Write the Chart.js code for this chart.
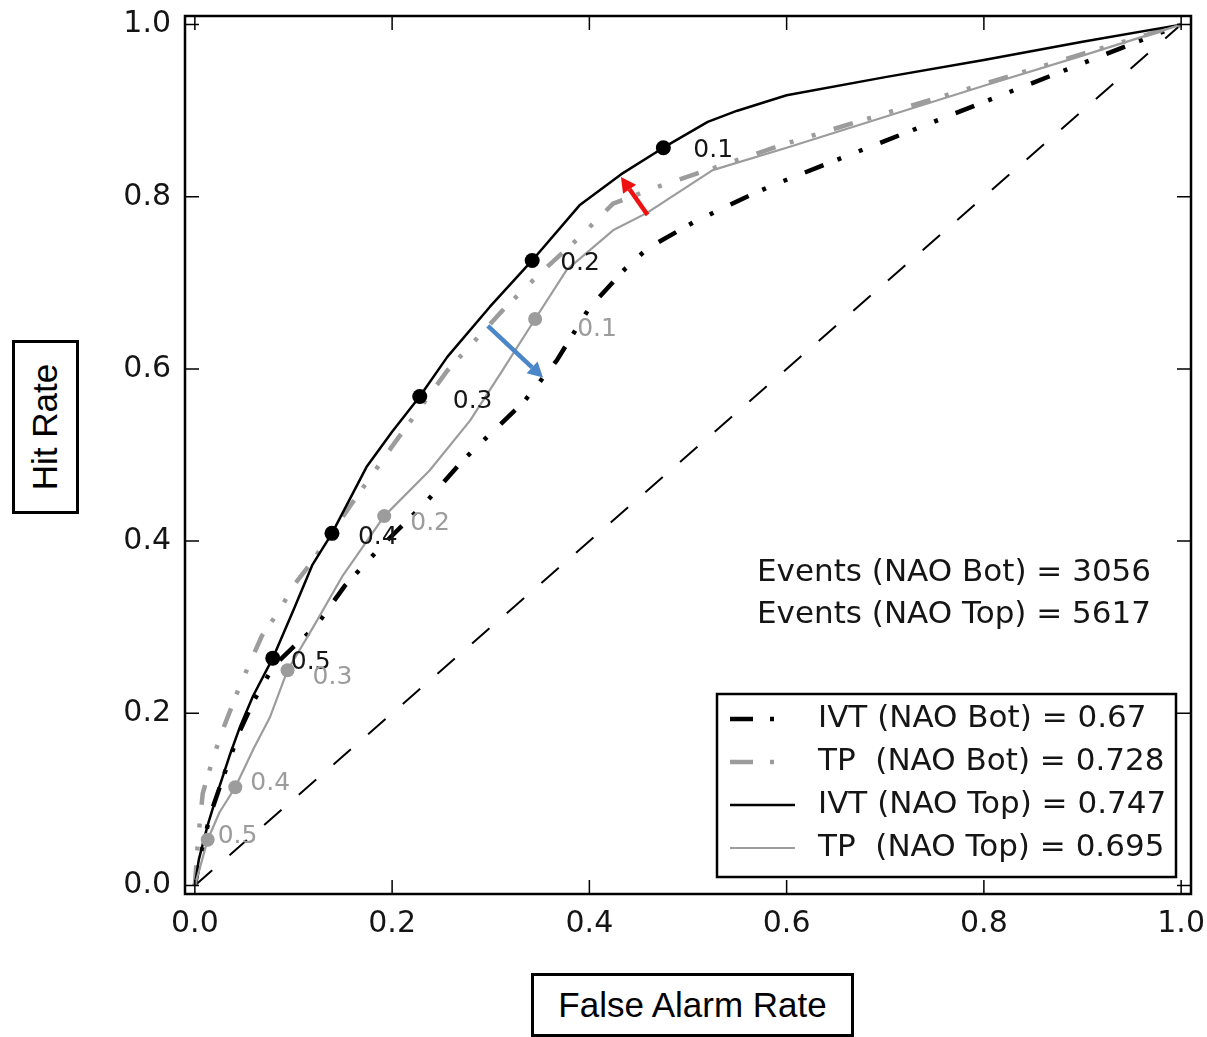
<!DOCTYPE html>
<html>
<head>
<meta charset="utf-8">
<title>ROC curves – IVT and TP by NAO phase</title>
<script src="https://cdn.jsdelivr.net/npm/chart.js@4/dist/chart.umd.min.js"></script>
<style>
  html, body { margin: 0; padding: 0; background: #fff; }
  #wrap { position: relative; width: 1207px; height: 1037px; overflow: hidden; }
  #roc { position: absolute; left: 0; top: 0; }
  .axbox {
    position: absolute; box-sizing: border-box; border: 3px solid #000; background: #fff;
    font-family: "Liberation Sans", Arial, sans-serif; font-size: 35px; color: #000;
    display: flex; align-items: center; justify-content: center;
  }
  #xtitle { left: 531px; top: 973px; width: 323px; height: 64px; }
  #ytitle { left: 12px; top: 340px; width: 67px; height: 174px; }
  #ytitle span { display: inline-block; white-space: nowrap; transform: rotate(-90deg); }
</style>
</head>
<body>
<div id="wrap">
  <canvas id="roc" width="1207" height="1037"></canvas>
  <div class="axbox" id="ytitle"><span>Hit Rate</span></div>
  <div class="axbox" id="xtitle"><span>False Alarm Rate</span></div>
</div>
<script>
// ---- data -------------------------------------------------------------
const tickValues = [0, 0.2, 0.4, 0.6, 0.8, 1.0];
const thresholds = ['0.1', '0.2', '0.3', '0.4', '0.5'];

// no-skill reference
const diagFar = [0, 1];
const diagHit = [0, 1];

// IVT, NAO bottom
const ivtBotFar = [0, 0.005, 0.015, 0.03, 0.045, 0.06, 0.08, 0.1, 0.122, 0.152, 0.19, 0.235, 0.272, 0.3, 0.333, 0.367, 0.4, 0.436, 0.459, 0.505, 0.556, 0.585, 0.7, 0.8, 0.9, 1];
const ivtBotHit = [0, 0.03, 0.08, 0.13, 0.178, 0.215, 0.255, 0.277, 0.3, 0.348, 0.395, 0.446, 0.494, 0.525, 0.561, 0.61, 0.671, 0.716, 0.74, 0.77, 0.798, 0.813, 0.865, 0.91, 0.955, 1];

// TP, NAO bottom
const tpBotFar = [0, 0.003, 0.008, 0.018, 0.027, 0.046, 0.068, 0.086, 0.1, 0.12, 0.16, 0.2, 0.256, 0.312, 0.35, 0.39, 0.424, 0.475, 0.525, 0.6, 0.7, 0.8, 0.9, 1];
const tpBotHit = [0, 0.05, 0.107, 0.146, 0.177, 0.233, 0.29, 0.32, 0.348, 0.378, 0.445, 0.51, 0.598, 0.668, 0.711, 0.753, 0.792, 0.814, 0.833, 0.862, 0.897, 0.931, 0.966, 1];

// IVT, NAO top
const ivtTopFar = [0, 0.004, 0.013, 0.025, 0.035, 0.046, 0.059, 0.079, 0.1, 0.119, 0.139, 0.174, 0.2, 0.228, 0.256, 0.299, 0.342, 0.39, 0.432, 0.475, 0.52, 0.55, 0.6, 0.7, 0.8, 0.9, 1];
const ivtTopHit = [0, 0.03, 0.07, 0.115, 0.15, 0.185, 0.22, 0.264, 0.32, 0.372, 0.409, 0.486, 0.527, 0.568, 0.614, 0.672, 0.726, 0.79, 0.826, 0.857, 0.887, 0.9, 0.918, 0.939, 0.959, 0.98, 1];

// TP, NAO top
const tpTopFar = [0, 0.005, 0.013, 0.025, 0.041, 0.06, 0.076, 0.094, 0.12, 0.15, 0.192, 0.238, 0.279, 0.309, 0.345, 0.377, 0.424, 0.458, 0.525, 0.6, 0.7, 0.8, 0.9, 1];
const tpTopHit = [0, 0.02, 0.053, 0.085, 0.114, 0.16, 0.195, 0.25, 0.3, 0.36, 0.429, 0.482, 0.54, 0.593, 0.658, 0.715, 0.761, 0.781, 0.831, 0.857, 0.893, 0.929, 0.964, 1];

// probability thresholds marked on the NAO-top curves (0.1 ... 0.5)
const ivtTopMarkFar = [0.475, 0.342, 0.228, 0.139, 0.079];
const ivtTopMarkHit = [0.857, 0.726, 0.568, 0.409, 0.264];
const tpTopMarkFar = [0.345, 0.192, 0.094, 0.041, 0.013];
const tpTopMarkHit = [0.658, 0.429, 0.25, 0.114, 0.053];

const legendLabels = [
  'IVT (NAO Bot) = 0.67',
  'TP  (NAO Bot) = 0.728',
  'IVT (NAO Top) = 0.747',
  'TP  (NAO Top) = 0.695'
];
const eventLines = ['Events (NAO Bot) = 3056', 'Events (NAO Top) = 5617'];

// arrows: [tailFar, tailHit, headFar, headHit]
const redArrow = [0.459, 0.779, 0.432, 0.823];
const blueArrow = [0.297, 0.650, 0.353, 0.590];

// ---- helpers ----------------------------------------------------------
const pts = (xs, ys) => xs.map((x, i) => ({ x: x, y: ys[i] }));
const GRAY = '#9c9c9c';
const INK = '#151515';
const MPL_FONT = '"DejaVu Sans", "Liberation Sans", sans-serif';
const dashDotDot = [20, 15, 4, 19, 4, 19];
const legendDashDot = [23, 17, 4, 60];

// ---- annotation / frame plugin ---------------------------------------
const rocDecor = {
  id: 'rocDecor',
  afterDatasetsDraw(chart, args, opts) {
    const ctx = chart.ctx;
    const xs = chart.scales.x, ys = chart.scales.y;
    const a = chart.chartArea;
    ctx.save();

    // frame
    ctx.strokeStyle = '#000';
    ctx.lineWidth = 2.5;
    ctx.strokeRect(a.left, a.top, a.right - a.left, a.bottom - a.top);

    // inward ticks on all four sides
    ctx.lineWidth = 1.5;
    const tl = 14;
    tickValues.forEach(v => {
      const px = xs.getPixelForValue(v);
      const py = ys.getPixelForValue(v);
      ctx.beginPath();
      ctx.moveTo(px, a.bottom); ctx.lineTo(px, a.bottom - tl);
      ctx.moveTo(px, a.top); ctx.lineTo(px, a.top + tl);
      ctx.moveTo(a.left, py); ctx.lineTo(a.left + tl, py);
      ctx.moveTo(a.right, py); ctx.lineTo(a.right - tl, py);
      ctx.stroke();
    });

    // threshold labels next to markers
    ctx.font = '25px ' + MPL_FONT;
    ctx.textAlign = 'left';
    ctx.textBaseline = 'middle';
    opts.markerSets.forEach(set => {
      const ds = chart.data.datasets[set.index];
      ctx.fillStyle = set.color;
      ds.data.forEach((p, i) => {
        const px = xs.getPixelForValue(p.x) + set.dx[i];
        const py = ys.getPixelForValue(p.y) + set.dy[i];
        ctx.fillText(thresholds[i], px, py);
      });
    });

    // event counts
    ctx.font = '31px ' + MPL_FONT;
    ctx.fillStyle = INK;
    ctx.fillText(eventLines[0], 757, 573);
    ctx.fillText(eventLines[1], 757, 615);

    // arrows
    const drawArrow = (arr, color) => {
      const x0 = xs.getPixelForValue(arr[0]), y0 = ys.getPixelForValue(arr[1]);
      const x1 = xs.getPixelForValue(arr[2]), y1 = ys.getPixelForValue(arr[3]);
      const ang = Math.atan2(y1 - y0, x1 - x0);
      const head = 15, half = 8;
      const bx = x1 - head * Math.cos(ang), by = y1 - head * Math.sin(ang);
      ctx.strokeStyle = color; ctx.fillStyle = color;
      ctx.lineWidth = 4.5; ctx.lineCap = 'butt';
      ctx.beginPath(); ctx.moveTo(x0, y0); ctx.lineTo(bx, by); ctx.stroke();
      ctx.beginPath();
      ctx.moveTo(x1, y1);
      ctx.lineTo(bx + half * Math.sin(ang), by - half * Math.cos(ang));
      ctx.lineTo(bx - half * Math.sin(ang), by + half * Math.cos(ang));
      ctx.closePath(); ctx.fill();
    };
    drawArrow(redArrow, '#ee1111');
    drawArrow(blueArrow, '#4a86c8');

    // legend box
    const L = { left: 717, top: 694, right: 1176, bottom: 877 };
    ctx.fillStyle = '#fff';
    ctx.fillRect(L.left, L.top, L.right - L.left, L.bottom - L.top);
    ctx.strokeStyle = '#000'; ctx.lineWidth = 2.5;
    ctx.strokeRect(L.left, L.top, L.right - L.left, L.bottom - L.top);
    const rowY = [719, 762, 805, 848];
    ctx.font = '31px ' + MPL_FONT;
    ctx.textBaseline = 'middle';
    opts.legendOrder.forEach((dsIndex, r) => {
      const ds = chart.data.datasets[dsIndex];
      const dashed = ds.borderDash && ds.borderDash.length > 0;
      ctx.save();
      ctx.strokeStyle = ds.borderColor;
      ctx.lineWidth = ds.borderWidth;
      ctx.setLineDash(dashed ? legendDashDot : []);
      ctx.lineCap = 'butt';
      ctx.beginPath(); ctx.moveTo(730, rowY[r]); ctx.lineTo(795, rowY[r]); ctx.stroke();
      ctx.restore();
      ctx.fillStyle = INK;
      ctx.fillText(legendLabels[r], 818, rowY[r]);
    });

    ctx.restore();
  }
};

// ---- chart -------------------------------------------------------------
const line = (xs, ys, color, width, dash, order) => ({
  data: pts(xs, ys), showLine: true, borderColor: color, backgroundColor: color,
  borderWidth: width, borderDash: dash, pointRadius: 0, pointHoverRadius: 0,
  tension: 0, fill: false, order: order, borderCapStyle: 'butt', borderJoinStyle: 'round'
});
const marks = (xs, ys, color, r, order) => ({
  data: pts(xs, ys), showLine: false, pointRadius: r, pointHoverRadius: r,
  pointBackgroundColor: color, pointBorderColor: color, pointBorderWidth: 0, order: order
});

// keep the plot frame exactly where the layout puts it
const noOverhang = s => { s.paddingTop = 0; s.paddingBottom = 0; s.paddingLeft = 0; s.paddingRight = 0; };

const fixedAxis = {
  type: 'linear', min: -0.01, max: 1.01,
  grid: { display: false, drawTicks: false },
  border: { display: false },
  afterBuildTicks: s => { s.ticks = tickValues.map(v => ({ value: v })); },
  ticks: {
    color: INK, font: { family: MPL_FONT, size: 30 },
    callback: v => Number(v).toFixed(1), autoSkip: false, maxRotation: 0
  }
};

new Chart(document.getElementById('roc'), {
  type: 'scatter',
  data: {
    datasets: [
      line(diagFar, diagHit, '#000', 2, [23, 23], 9),           // 0
      line(ivtBotFar, ivtBotHit, '#000', 4.5, dashDotDot, 8),    // 1
      line(tpBotFar, tpBotHit, GRAY, 4.5, dashDotDot, 7),        // 2
      line(ivtTopFar, ivtTopHit, '#000', 2.5, [], 6),            // 3
      line(tpTopFar, tpTopHit, GRAY, 2.2, [], 5),                // 4
      marks(ivtTopMarkFar, ivtTopMarkHit, '#000', 7.5, 4),       // 5
      marks(tpTopMarkFar, tpTopMarkHit, GRAY, 7, 3)              // 6
    ]
  },
  options: {
    responsive: false, animation: false, devicePixelRatio: 1,
    layout: { padding: { left: 0, top: 16, right: 16, bottom: 83 } },
    scales: {
      x: Object.assign({}, fixedAxis, {
        position: 'bottom',
        afterFit: s => { s.height = 60; noOverhang(s); },
        ticks: Object.assign({}, fixedAxis.ticks, { padding: 12 })
      }),
      y: Object.assign({}, fixedAxis, {
        position: 'left',
        afterFit: s => { s.width = 185; noOverhang(s); },
        ticks: Object.assign({}, fixedAxis.ticks, { padding: 14 })
      })
    },
    plugins: {
      legend: { display: false },
      tooltip: { enabled: false },
      rocDecor: {
        legendOrder: [1, 2, 3, 4],
        markerSets: [
          { index: 5, color: INK, dx: [30, 28, 33, 26, 18], dy: [3, 3, 5, 4, 4] },
          { index: 6, color: GRAY, dx: [42, 26, 25, 15, 10], dy: [11, 7, 7, -4, -3] }
        ]
      }
    }
  },
  plugins: [rocDecor]
});
</script>
</body>
</html>
